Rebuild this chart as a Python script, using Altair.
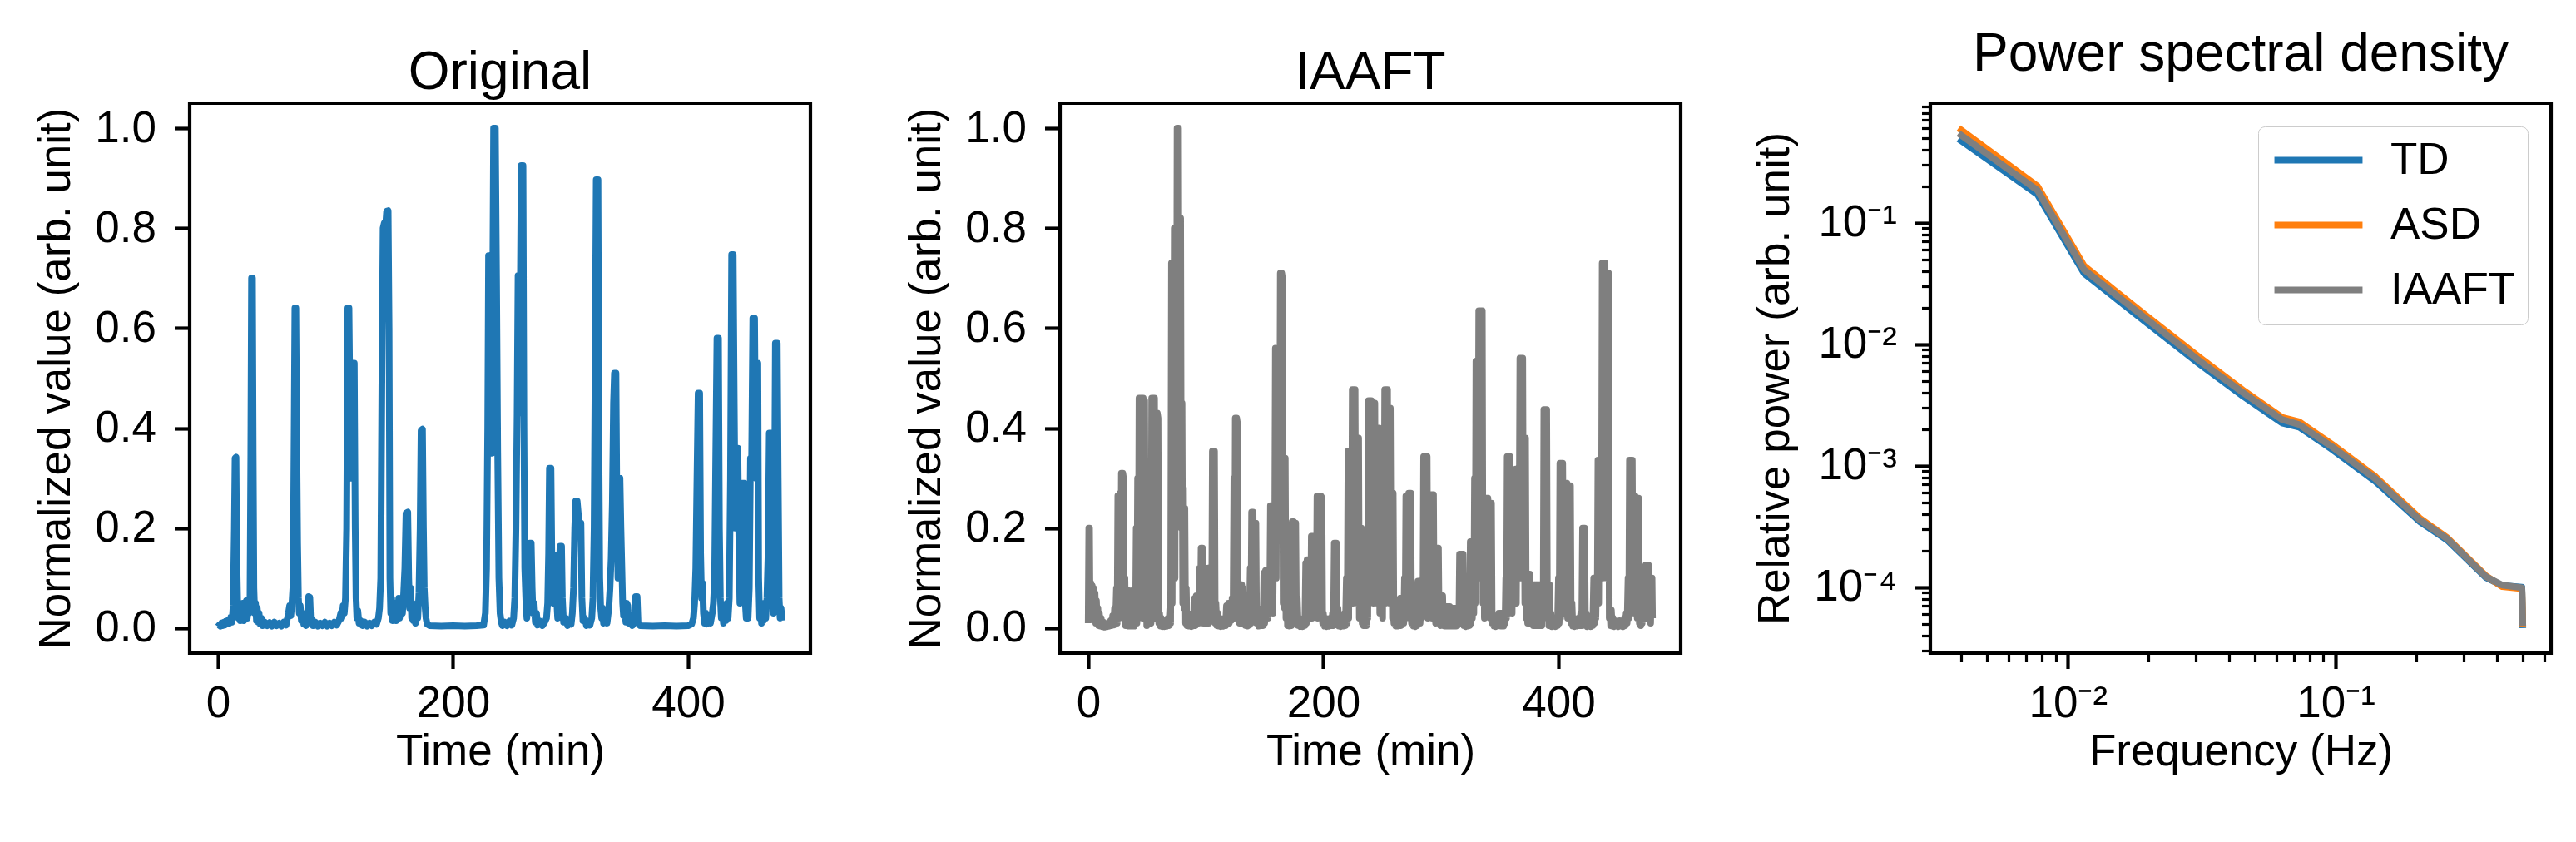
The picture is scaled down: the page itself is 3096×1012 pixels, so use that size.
import math
import altair as alt
import pandas as pd

FONT = "Liberation Sans"

# ---------------- data ----------------
# Original time series (time in min, normalized value)
orig_pts = [
    (0, 0.003), (1, 0.006), (2, 0.004), (3, 0.010), (4, 0.005), (5, 0.012), (6, 0.006), (7, 0.014),
    (8, 0.008), (9, 0.016), (10, 0.010), (11, 0.022), (12, 0.012), (13, 0.045), (14, 0.20), (14.6, 0.34),
    (15.4, 0.342), (16, 0.15), (16.8, 0.05), (17.5, 0.02), (18.2, 0.045), (19, 0.015), (19.8, 0.04),
    (20.5, 0.02), (21.2, 0.05), (22, 0.015), (22.8, 0.04), (23.5, 0.02), (24.2, 0.055), (25, 0.02),
    (25.8, 0.045), (26.5, 0.03), (27.3, 0.06), (28, 0.35), (28.6, 0.70), (29.4, 0.70), (30, 0.35),
    (30.6, 0.08), (31.3, 0.03), (32, 0.05), (32.8, 0.015), (33.5, 0.04), (34.3, 0.012), (35, 0.03),
    (36, 0.008), (37, 0.02), (38, 0.005), (40, 0.012), (42, 0.005), (44, 0.011), (46, 0.004), (48, 0.012),
    (50, 0.005), (52, 0.010), (54, 0.004), (56, 0.012), (58, 0.006), (59, 0.018), (60, 0.03), (61, 0.045),
    (62, 0.025), (63, 0.05), (64, 0.09), (65, 0.45), (65.5, 0.64), (66.3, 0.64), (67, 0.40), (67.8, 0.17),
    (68.5, 0.06), (69.2, 0.03), (70, 0.045), (71, 0.015), (72, 0.03), (73, 0.008), (74, 0.015), (75, 0.005),
    (76.5, 0.02), (77.2, 0.063), (78.2, 0.062), (79, 0.012), (80, 0.018), (81, 0.005), (83, 0.012),
    (85, 0.004), (87, 0.010), (89, 0.005), (91, 0.012), (93, 0.004), (95, 0.010), (97, 0.005), (99, 0.012),
    (101, 0.006), (103, 0.015), (104.5, 0.03), (105.5, 0.02), (106.5, 0.045), (107.5, 0.03), (108.5, 0.06),
    (109.5, 0.20), (110.5, 0.64), (111.5, 0.64), (112.3, 0.45), (113, 0.30), (114, 0.50), (115, 0.53),
    (116, 0.53), (116.8, 0.20), (117.5, 0.06), (118.2, 0.02), (119, 0.035), (120, 0.010), (121.5, 0.015),
    (123, 0.005), (125, 0.012), (127, 0.004), (129, 0.010), (131, 0.005), (133, 0.012), (135, 0.008),
    (136.5, 0.02), (137.5, 0.04), (138.5, 0.10), (139.5, 0.50), (140.5, 0.80), (141.5, 0.81), (142.5, 0.80),
    (143.5, 0.834), (144.8, 0.835), (145.6, 0.60), (146.3, 0.10), (147, 0.03), (147.8, 0.06), (148.5, 0.015),
    (149.3, 0.04), (150, 0.02), (150.8, 0.05), (151.5, 0.015), (152.3, 0.045), (153, 0.02), (153.8, 0.06),
    (154.5, 0.02), (155.3, 0.04), (156, 0.06), (157, 0.03), (158, 0.07), (159, 0.12), (160, 0.23),
    (161.5, 0.232), (162.3, 0.10), (163, 0.04), (164, 0.08), (164.8, 0.02), (165.5, 0.05), (166.3, 0.015),
    (167, 0.04), (168, 0.010), (169, 0.03), (170, 0.02), (171, 0.07), (172, 0.20), (172.8, 0.395),
    (174, 0.398), (174.8, 0.20), (175.5, 0.08), (176.3, 0.04), (177, 0.02), (178, 0.008), (180, 0.005),
    (190, 0.004), (200, 0.005), (210, 0.004), (220, 0.005), (226, 0.006), (227.5, 0.03), (228.5, 0.12),
    (229.5, 0.40), (230.2, 0.745), (231, 0.745), (232, 0.50), (233, 0.35), (233.8, 0.70), (234.5, 1.0),
    (236, 1.0), (237, 0.70), (238, 0.35), (239, 0.10), (240, 0.03), (241, 0.012), (242, 0.005), (244, 0.012),
    (246, 0.005), (248, 0.014), (250, 0.006), (251.5, 0.02), (252.5, 0.06), (253.5, 0.20), (254.5, 0.43),
    (255.3, 0.705), (256, 0.43), (257, 0.60), (258, 0.925), (259.5, 0.925), (260.3, 0.40), (261, 0.12),
    (262, 0.05), (262.8, 0.02), (263.6, 0.06), (264.5, 0.10), (265.3, 0.17), (266.5, 0.17), (267.3, 0.08),
    (268, 0.03), (269, 0.05), (270, 0.012), (271, 0.03), (272, 0.006), (274, 0.014), (276, 0.005),
    (278, 0.012), (279.5, 0.02), (280.5, 0.05), (281.3, 0.15), (282, 0.32), (283.3, 0.32), (284.2, 0.10),
    (285, 0.05), (285.8, 0.13), (286.6, 0.146), (287.6, 0.146), (288.3, 0.05), (289, 0.02), (290, 0.09),
    (291, 0.164), (292.3, 0.164), (293, 0.06), (294, 0.012), (296, 0.02), (297.5, 0.005), (299, 0.012),
    (300.5, 0.008), (301.5, 0.03), (302.5, 0.08), (303.5, 0.20), (304.3, 0.254), (305.6, 0.254),
    (306.5, 0.23), (307.3, 0.21), (308.8, 0.21), (309.6, 0.06), (310.5, 0.015), (312, 0.02), (313.5, 0.005),
    (315, 0.012), (316.5, 0.006), (318, 0.02), (319, 0.06), (320, 0.20), (320.8, 0.50), (321.8, 0.897),
    (323.3, 0.897), (324, 0.40), (324.8, 0.10), (325.6, 0.04), (326.4, 0.02), (327.2, 0.04), (328, 0.010),
    (329.5, 0.025), (331, 0.010), (332.5, 0.04), (333.5, 0.08), (334.5, 0.14), (335.5, 0.25), (336.5, 0.45),
    (337.3, 0.51), (338.6, 0.51), (339.5, 0.20), (340.3, 0.10), (341, 0.30), (342, 0.30), (342.8, 0.20),
    (343.5, 0.13), (344.3, 0.05), (345, 0.025), (346, 0.05), (347, 0.012), (347.8, 0.05), (348.6, 0.045),
    (349.4, 0.010), (351, 0.02), (352.5, 0.005), (354, 0.012), (355.3, 0.063), (356.6, 0.063),
    (357.4, 0.010), (359, 0.005), (370, 0.004), (380, 0.005), (390, 0.004), (400, 0.005), (403, 0.008),
    (404.5, 0.02), (405.5, 0.05), (406.5, 0.12), (407.5, 0.30), (408.5, 0.47), (409.8, 0.47), (410.6, 0.15),
    (411.4, 0.06), (412.2, 0.09), (413, 0.03), (414, 0.010), (415, 0.03), (416, 0.008), (417.5, 0.02),
    (419, 0.010), (420.5, 0.03), (421.5, 0.05), (422.5, 0.10), (423.5, 0.35), (424.5, 0.58), (425.8, 0.58),
    (426.6, 0.20), (427.4, 0.06), (428.2, 0.02), (429, 0.045), (430, 0.010), (431, 0.04), (432, 0.015),
    (433, 0.05), (434, 0.02), (435, 0.06), (436, 0.30), (437, 0.747), (438.3, 0.747), (439.2, 0.45),
    (440, 0.20), (441, 0.36), (442.3, 0.36), (443, 0.20), (444, 0.05), (445, 0.15), (446, 0.29),
    (447.8, 0.29), (448.6, 0.05), (449.4, 0.02), (450.2, 0.05), (451, 0.02), (452, 0.08), (453, 0.34),
    (454, 0.34), (455, 0.62), (456.5, 0.62), (457.5, 0.30), (458.5, 0.53), (459.3, 0.53), (460, 0.10),
    (460.8, 0.02), (461.6, 0.05), (462.4, 0.010), (463.2, 0.04), (464, 0.015), (465, 0.05), (466, 0.02),
    (467, 0.06), (468, 0.15), (469, 0.39), (471, 0.39), (471.8, 0.10), (472.6, 0.03), (473.4, 0.20),
    (474.2, 0.57), (475.8, 0.57), (476.6, 0.30), (477.4, 0.06), (478.2, 0.02), (479, 0.04), (480, 0.015),
]

# IAAFT surrogate time series (time in min, normalized value)
iaaft_pts = [
    (0, 0.01), (0.5, 0.2), (1.1, 0.2), (1.6, 0.02), (2.2, 0.09), (2.8, 0.02), (3.4, 0.085), (4, 0.02),
    (4.6, 0.08), (5.2, 0.02), (5.8, 0.07), (6.4, 0.01), (7, 0.055), (7.6, 0.01), (8.2, 0.04), (8.8, 0.005),
    (9.5, 0.03), (10.2, 0.004), (11, 0.02), (12, 0.003), (13, 0.012), (14, 0.002), (15, 0.008), (16, 0.003),
    (17, 0.01), (18, 0.004), (19, 0.015), (20, 0.005), (20.8, 0.025), (21.6, 0.006), (22.4, 0.04),
    (23.2, 0.01), (24, 0.08), (24.6, 0.01), (25.2, 0.265), (25.8, 0.265), (26.4, 0.02), (27, 0.27),
    (27.6, 0.05), (28.2, 0.31), (28.8, 0.03), (29.4, 0.31), (30, 0.3), (30.6, 0.02), (31.2, 0.1),
    (31.8, 0.005), (32.4, 0.075), (33, 0.005), (33.6, 0.072), (34.2, 0.004), (34.8, 0.075), (35.4, 0.006),
    (36, 0.07), (36.6, 0.004), (37.2, 0.075), (37.8, 0.006), (38.4, 0.072), (39, 0.004), (39.6, 0.075),
    (40.2, 0.01), (40.8, 0.2), (41.4, 0.01), (42, 0.3), (42.6, 0.02), (43.2, 0.46), (43.8, 0.03),
    (44.4, 0.46), (45, 0.05), (45.6, 0.46), (46.2, 0.02), (46.8, 0.46), (47.4, 0.1), (48, 0.455),
    (48.6, 0.02), (49.2, 0.14), (49.8, 0.005), (50.4, 0.14), (51, 0.01), (51.6, 0.14), (52.2, 0.01),
    (52.8, 0.28), (53.4, 0.01), (54, 0.46), (54.6, 0.03), (55.2, 0.46), (55.8, 0.02), (56.4, 0.46),
    (57, 0.06), (57.6, 0.43), (58.2, 0.02), (58.8, 0.43), (59.4, 0.42), (60, 0.01), (60.7, 0.03),
    (61.4, 0.004), (62.2, 0.02), (63, 0.003), (64, 0.015), (65, 0.003), (66, 0.012), (67, 0.004),
    (67.8, 0.02), (68.6, 0.005), (69.4, 0.04), (70.1, 0.01), (70.8, 0.73), (71.4, 0.05), (72, 0.73),
    (72.6, 0.2), (73.2, 0.8), (73.8, 0.1), (74.4, 0.8), (75, 0.3), (75.6, 1.0), (76.2, 0.5), (76.8, 1.0),
    (77.4, 0.4), (78, 0.82), (78.6, 0.82), (79.2, 0.2), (79.8, 0.45), (80.4, 0.05), (81, 0.28),
    (81.6, 0.04), (82.2, 0.24), (82.8, 0.01), (83.4, 0.08), (84, 0.005), (85, 0.03), (86, 0.004),
    (87, 0.02), (88, 0.003), (89, 0.015), (89.8, 0.005), (90.5, 0.06), (91.2, 0.005), (91.9, 0.065),
    (92.6, 0.01), (93.3, 0.065), (94, 0.01), (94.7, 0.12), (95.4, 0.02), (96, 0.16), (96.6, 0.02),
    (97.2, 0.16), (97.8, 0.01), (98.4, 0.1), (99, 0.02), (99.6, 0.12), (100.2, 0.01), (100.8, 0.1),
    (101.4, 0.02), (102, 0.12), (102.6, 0.01), (103.2, 0.08), (103.8, 0.02), (104.4, 0.12), (105, 0.02),
    (105.6, 0.354), (106.2, 0.02), (106.8, 0.354), (107.4, 0.354), (108, 0.01), (108.6, 0.05),
    (109.4, 0.005), (110.2, 0.03), (111, 0.004), (112, 0.02), (113, 0.003), (114, 0.012), (115, 0.004),
    (116, 0.02), (116.8, 0.005), (117.6, 0.045), (118.4, 0.008), (119.2, 0.05), (120, 0.01), (120.8, 0.05),
    (121.6, 0.015), (122.4, 0.06), (123.2, 0.02), (123.9, 0.3), (124.5, 0.02), (125.1, 0.42), (125.7, 0.05),
    (126.3, 0.42), (126.9, 0.41), (127.5, 0.05), (128.1, 0.09), (128.7, 0.01), (129.3, 0.087), (129.9, 0.01),
    (130.5, 0.087), (131.1, 0.01), (131.7, 0.08), (132.3, 0.01), (133, 0.06), (133.8, 0.005), (134.6, 0.03),
    (135.4, 0.004), (136.2, 0.02), (137, 0.006), (137.8, 0.12), (138.4, 0.01), (139, 0.232), (139.6, 0.03),
    (140.2, 0.232), (140.8, 0.02), (141.4, 0.21), (142, 0.03), (142.6, 0.21), (143.2, 0.01), (144, 0.03),
    (145, 0.004), (146, 0.02), (147, 0.005), (148, 0.04), (148.7, 0.005), (149.4, 0.11), (150.1, 0.01),
    (150.8, 0.115), (151.5, 0.02), (152.2, 0.115), (152.9, 0.02), (153.6, 0.115), (154.3, 0.03),
    (155, 0.245), (155.7, 0.04), (156.4, 0.245), (157.1, 0.03), (157.8, 0.245), (158.5, 0.1), (159.2, 0.56),
    (159.9, 0.1), (160.6, 0.56), (161.3, 0.2), (162, 0.56), (162.7, 0.2), (163.4, 0.71), (164, 0.3),
    (164.6, 0.71), (165.2, 0.7), (165.8, 0.05), (166.4, 0.34), (167, 0.04), (167.6, 0.34), (168.2, 0.02),
    (168.8, 0.1), (169.5, 0.005), (170.3, 0.03), (171.1, 0.004), (172, 0.02), (172.8, 0.005), (173.5, 0.213),
    (174.1, 0.02), (174.7, 0.213), (175.3, 0.02), (175.9, 0.21), (176.5, 0.21), (177.1, 0.02), (177.8, 0.06),
    (178.6, 0.005), (179.5, 0.02), (180.5, 0.003), (181.5, 0.015), (182.5, 0.003), (183.5, 0.012),
    (184.3, 0.005), (185, 0.13), (185.6, 0.01), (186.2, 0.137), (186.8, 0.02), (187.4, 0.137), (188, 0.05),
    (188.6, 0.137), (189.2, 0.02), (189.8, 0.184), (190.4, 0.02), (191, 0.184), (191.6, 0.05), (192.2, 0.184),
    (192.8, 0.1), (193.4, 0.184), (194, 0.03), (194.6, 0.264), (195.2, 0.02), (195.8, 0.264), (196.4, 0.05),
    (197, 0.264), (197.6, 0.03), (198.2, 0.264), (198.8, 0.26), (199.4, 0.01), (200, 0.03), (201, 0.004),
    (202, 0.02), (203, 0.003), (204, 0.012), (205, 0.004), (206, 0.02), (207, 0.005), (207.8, 0.03),
    (208.6, 0.005), (209.3, 0.17), (209.9, 0.01), (210.5, 0.17), (211.1, 0.17), (211.7, 0.01), (212.4, 0.04),
    (213.2, 0.004), (214, 0.02), (215, 0.003), (216, 0.015), (217, 0.004), (218, 0.03), (218.8, 0.005),
    (219.6, 0.1), (220.3, 0.01), (221, 0.354), (221.6, 0.02), (222.2, 0.354), (222.8, 0.05), (223.4, 0.354),
    (224, 0.1), (224.6, 0.477), (225.2, 0.05), (225.8, 0.477), (226.4, 0.2), (227, 0.477), (227.6, 0.1),
    (228.2, 0.38), (228.8, 0.05), (229.4, 0.38), (230, 0.38), (230.6, 0.02), (231.2, 0.2), (231.8, 0.03),
    (232.4, 0.2), (233, 0.01), (233.6, 0.07), (234.2, 0.005), (234.8, 0.07), (235.4, 0.01), (236, 0.07),
    (236.6, 0.005), (237.2, 0.1), (237.8, 0.02), (238.4, 0.455), (239, 0.05), (239.6, 0.455), (240.2, 0.1),
    (240.8, 0.455), (241.4, 0.2), (242, 0.45), (242.6, 0.05), (243.2, 0.45), (243.8, 0.45), (244.4, 0.1),
    (245, 0.4), (245.6, 0.05), (246.2, 0.4), (246.8, 0.1), (247.4, 0.4), (248, 0.03), (248.6, 0.3),
    (249.2, 0.05), (249.8, 0.3), (250.4, 0.02), (251, 0.3), (251.6, 0.1), (252.2, 0.477), (252.8, 0.05),
    (253.4, 0.477), (254, 0.2), (254.6, 0.477), (255.2, 0.1), (255.8, 0.44), (256.4, 0.05), (257, 0.44),
    (257.6, 0.1), (258.2, 0.27), (258.8, 0.02), (259.4, 0.27), (260, 0.01), (260.8, 0.03), (261.6, 0.004),
    (262.4, 0.02), (263.2, 0.004), (264, 0.015), (264.7, 0.005), (265.4, 0.06), (266, 0.005), (266.6, 0.06),
    (267.2, 0.01), (267.8, 0.06), (268.4, 0.01), (269, 0.1), (269.6, 0.02), (270.2, 0.264), (270.8, 0.03),
    (271.4, 0.264), (272, 0.05), (272.6, 0.27), (273.2, 0.02), (273.8, 0.27), (274.4, 0.27), (275, 0.01),
    (275.8, 0.03), (276.6, 0.004), (277.4, 0.02), (278.2, 0.003), (279, 0.015), (279.8, 0.005),
    (280.5, 0.094), (281.1, 0.01), (281.7, 0.094), (282.3, 0.01), (282.9, 0.094), (283.5, 0.02),
    (284.1, 0.094), (284.7, 0.03), (285.3, 0.343), (285.9, 0.03), (286.5, 0.343), (287.1, 0.05),
    (287.7, 0.343), (288.3, 0.343), (288.9, 0.02), (289.5, 0.267), (290.1, 0.03), (290.7, 0.267),
    (291.3, 0.05), (291.9, 0.267), (292.5, 0.02), (293.1, 0.267), (293.7, 0.267), (294.3, 0.02),
    (294.9, 0.16), (295.5, 0.01), (296.1, 0.16), (296.7, 0.02), (297.3, 0.16), (297.9, 0.16), (298.5, 0.01),
    (299.1, 0.065), (299.7, 0.005), (300.3, 0.065), (300.9, 0.01), (301.5, 0.065), (302.1, 0.005),
    (302.7, 0.043), (303.3, 0.004), (303.9, 0.043), (304.5, 0.005), (305.1, 0.043), (305.7, 0.004),
    (306.3, 0.043), (306.9, 0.005), (307.5, 0.043), (308.1, 0.004), (308.7, 0.04), (309.3, 0.005),
    (309.9, 0.04), (310.5, 0.004), (311.1, 0.04), (311.7, 0.005), (312.3, 0.04), (312.9, 0.004),
    (313.5, 0.04), (314.1, 0.005), (314.7, 0.04), (315.3, 0.01), (315.9, 0.148), (316.5, 0.01),
    (317.1, 0.148), (317.7, 0.02), (318.3, 0.148), (318.9, 0.148), (319.5, 0.005), (320.3, 0.02),
    (321.1, 0.003), (322, 0.015), (322.8, 0.004), (323.6, 0.03), (324.3, 0.005), (325, 0.173), (325.6, 0.01),
    (326.2, 0.173), (326.8, 0.02), (327.4, 0.173), (328, 0.03), (328.6, 0.3), (329.2, 0.05), (329.8, 0.534),
    (330.4, 0.1), (331, 0.534), (331.6, 0.2), (332.2, 0.635), (332.8, 0.1), (333.4, 0.635), (334, 0.3),
    (334.6, 0.635), (335.2, 0.635), (335.8, 0.05), (336.4, 0.26), (337, 0.02), (337.6, 0.26), (338.2, 0.05),
    (338.8, 0.26), (339.4, 0.03), (340, 0.26), (340.6, 0.06), (341.2, 0.25), (341.8, 0.02), (342.4, 0.25),
    (343, 0.25), (343.6, 0.01), (344.4, 0.02), (345.2, 0.004), (346, 0.012), (346.8, 0.003), (347.6, 0.02),
    (348.4, 0.005), (349.2, 0.03), (349.8, 0.005), (350.4, 0.03), (351, 0.004), (351.6, 0.03), (352.2, 0.005),
    (352.8, 0.03), (353.4, 0.004), (354, 0.03), (354.6, 0.01), (355.2, 0.1), (355.8, 0.02), (356.4, 0.343),
    (357, 0.03), (357.6, 0.343), (358.2, 0.05), (358.8, 0.343), (359.4, 0.1), (360, 0.264), (360.6, 0.03),
    (361.2, 0.264), (361.8, 0.05), (362.4, 0.264), (363, 0.1), (363.6, 0.318), (364.2, 0.05), (364.8, 0.318),
    (365.4, 0.1), (366, 0.318), (366.6, 0.2), (367.2, 0.54), (367.8, 0.1), (368.4, 0.54), (369, 0.3),
    (369.6, 0.54), (370.2, 0.1), (370.8, 0.38), (371.4, 0.05), (372, 0.38), (372.6, 0.02), (373.2, 0.108),
    (373.8, 0.01), (374.4, 0.108), (375, 0.02), (375.6, 0.108), (376.2, 0.01), (376.8, 0.087), (377.4, 0.01),
    (378, 0.087), (378.6, 0.005), (379.2, 0.087), (379.8, 0.01), (380.4, 0.087), (381, 0.005), (381.6, 0.087),
    (382.2, 0.01), (382.8, 0.087), (383.4, 0.005), (384, 0.087), (384.6, 0.01), (385.2, 0.087),
    (385.8, 0.005), (386.4, 0.087), (387, 0.02), (387.6, 0.437), (388.2, 0.03), (388.8, 0.437),
    (389.4, 0.05), (390, 0.437), (390.6, 0.02), (391.2, 0.087), (391.8, 0.005), (392.4, 0.087),
    (393, 0.005), (393.6, 0.03), (394.4, 0.003), (395.2, 0.02), (396, 0.004), (396.8, 0.012),
    (397.6, 0.003), (398.4, 0.02), (399.2, 0.005), (400, 0.1), (400.6, 0.01), (401.2, 0.33), (401.8, 0.02),
    (402.4, 0.33), (403, 0.05), (403.6, 0.33), (404.2, 0.1), (404.8, 0.29), (405.4, 0.03), (406, 0.29),
    (406.6, 0.06), (407.2, 0.29), (407.8, 0.02), (408.4, 0.285), (409, 0.05), (409.6, 0.285), (410.2, 0.285),
    (410.8, 0.01), (411.5, 0.05), (412.2, 0.004), (413, 0.02), (414, 0.003), (415, 0.015), (416, 0.004),
    (417, 0.02), (418, 0.005), (419, 0.03), (419.8, 0.005), (420.5, 0.2), (421.1, 0.01), (421.7, 0.2),
    (422.3, 0.2), (422.9, 0.005), (423.6, 0.03), (424.4, 0.003), (425.2, 0.02), (426, 0.004), (426.8, 0.015),
    (427.6, 0.003), (428.4, 0.025), (429.2, 0.005), (430, 0.1), (430.6, 0.01), (431.2, 0.1), (431.8, 0.02),
    (432.4, 0.1), (433, 0.05), (433.6, 0.336), (434.2, 0.05), (434.8, 0.336), (435.4, 0.1), (436, 0.336),
    (436.6, 0.2), (437.2, 0.73), (437.8, 0.1), (438.4, 0.73), (439, 0.3), (439.6, 0.73), (440.2, 0.2),
    (440.8, 0.71), (441.4, 0.1), (442, 0.71), (442.6, 0.71), (443.2, 0.02), (443.8, 0.036), (444.4, 0.005),
    (445, 0.036), (445.7, 0.004), (446.5, 0.02), (447.3, 0.003), (448.2, 0.015), (449, 0.004), (450, 0.012),
    (451, 0.003), (452, 0.015), (453, 0.004), (454, 0.01), (455, 0.003), (456, 0.02), (456.8, 0.005),
    (457.6, 0.03), (458.4, 0.01), (459.2, 0.1), (459.8, 0.02), (460.4, 0.336), (461, 0.03), (461.6, 0.336),
    (462.2, 0.1), (462.8, 0.336), (463.4, 0.05), (464, 0.264), (464.6, 0.03), (465.2, 0.264), (465.8, 0.05),
    (466.4, 0.26), (467, 0.02), (467.6, 0.26), (468.2, 0.26), (468.8, 0.01), (469.4, 0.09), (470, 0.005),
    (470.6, 0.09), (471.2, 0.01), (471.8, 0.09), (472.4, 0.02), (473, 0.09), (473.6, 0.03), (474.2, 0.126),
    (474.8, 0.02), (475.4, 0.126), (476, 0.04), (476.6, 0.126), (477.2, 0.02), (477.8, 0.1), (478.4, 0.01),
    (479, 0.1), (479.6, 0.1), (480, 0.02),
]

# Power spectral density (frequency in Hz, relative power)
psd_freq = [0.00390625, 0.0077, 0.0115, 0.0194, 0.031, 0.045, 0.063, 0.073, 0.097, 0.141,
            0.206, 0.261, 0.364, 0.419, 0.496, 0.5]
psd_td = [0.49, 0.171, 0.0383, 0.0154, 0.00686, 0.00374, 0.00225, 0.00208, 0.00136, 0.000741,
          0.000347, 0.000244, 0.000120, 0.000103, 0.000100, 0.000046]
psd_asd = [0.60, 0.200, 0.0440, 0.0175, 0.00780, 0.00420, 0.00250, 0.00230, 0.00150, 0.000810,
           0.000370, 0.000255, 0.000124, 0.000101, 0.000097, 0.000047]
psd_iaaft = [0.545, 0.185, 0.0410, 0.0165, 0.00730, 0.00400, 0.00240, 0.00218, 0.00143, 0.000780,
             0.000358, 0.000250, 0.000122, 0.000104, 0.000099, 0.000048]

series_names = ["TD", "ASD", "IAAFT"]
series_colors = ["#1f77b4", "#ff7f0e", "#7f7f7f"]

ts_xticks = [0, 200, 400]
ts_yticks = [0.0, 0.2, 0.4, 0.6, 0.8, 1.0]
psd_xticks = [0.004, 0.005, 0.006, 0.007, 0.008, 0.009, 0.01,
              0.02, 0.03, 0.04, 0.05, 0.06, 0.07, 0.08, 0.09, 0.1,
              0.2, 0.3, 0.4, 0.5, 0.6]
psd_yticks = [3e-5, 4e-5, 5e-5, 6e-5, 7e-5, 8e-5, 9e-5, 1e-4,
              2e-4, 3e-4, 4e-4, 5e-4, 6e-4, 7e-4, 8e-4, 9e-4, 1e-3,
              2e-3, 3e-3, 4e-3, 5e-3, 6e-3, 7e-3, 8e-3, 9e-3, 1e-2,
              0.02, 0.03, 0.04, 0.05, 0.06, 0.07, 0.08, 0.09, 0.1,
              0.2, 0.3, 0.4, 0.5, 0.6, 0.7, 0.8, 0.9]

# ---------------- tables ----------------
df_orig = pd.DataFrame(orig_pts, columns=["t", "v"])
df_iaaft = pd.DataFrame(iaaft_pts, columns=["t", "v"])
rows = []
for name, vals in zip(series_names, [psd_td, psd_asd, psd_iaaft]):
    for f, p in zip(psd_freq, vals):
        rows.append({"f": f, "p": p, "series": name})
df_psd = pd.DataFrame(rows)

# matplotlib-like 5% margins
t_min, t_max = 0, 480
t_dom = [t_min - 0.05 * (t_max - t_min), t_max + 0.05 * (t_max - t_min)]
lf0, lf1 = math.log10(min(psd_freq)), math.log10(max(psd_freq))
f_dom = [10 ** (lf0 - 0.05 * (lf1 - lf0)), 10 ** (lf1 + 0.05 * (lf1 - lf0))]
allp = psd_td + psd_asd + psd_iaaft
lp0, lp1 = math.log10(min(allp)), math.log10(max(allp))
p_dom = [10 ** (lp0 - 0.05 * (lp1 - lp0)), 10 ** (lp1 + 0.05 * (lp1 - lp0))]

W, H = 746, 661
LW = 8
TICK_MAJ, TICK_MIN = 18.5, 10.5
TW_MAJ, TW_MIN = 4.2, 3.2

MAJ = "abs(log(datum.value)/LN10 - round(log(datum.value)/LN10)) < 0.001"
SUP = "['\u2070','\u00b9','\u00b2','\u00b3','\u2074','\u2075','\u2076']"
LOG_LABEL = MAJ + " ? ('10\u207b' + " + SUP + "[-round(log(datum.value)/LN10)]) : ''"


def ts_panel(df, color, title):
    return alt.Chart(df).mark_line(
        color=color, strokeWidth=LW, strokeJoin="round", strokeCap="butt", clip=True
    ).encode(
        x=alt.X("t:Q", scale=alt.Scale(domain=t_dom, nice=False, zero=False),
                axis=alt.Axis(title="Time (min)", values=ts_xticks, format="d")),
        y=alt.Y("v:Q", scale=alt.Scale(domain=[-0.05, 1.05], nice=False, zero=False),
                axis=alt.Axis(title="Normalized value (arb. unit)", values=ts_yticks, format=".1f")),
    ).properties(width=W, height=H, title=title)


p1 = ts_panel(df_orig, "#1f77b4", "Original")
p2 = ts_panel(df_iaaft, "#7f7f7f", "IAAFT")

# legend handle: a wide horizontal stroke (path spans 3x the nominal symbol size)
SYM_Q = 35.3
color_enc = alt.Color(
    "series:N",
    scale=alt.Scale(domain=series_names, range=series_colors),
    legend=alt.Legend(
        title=None, orient="top-right", offset=28, symbolType="M-3,0H3",
        symbolSize=SYM_Q * SYM_Q, symbolStrokeWidth=LW, symbolOffset=32,
        labelFont=FONT, labelFontSize=53, labelColor="black", labelOffset=60,
        padding=14, rowPadding=24,
        strokeColor="#cccccc", fillColor="white", cornerRadius=8,
    ),
)

psd_base = alt.Chart(df_psd).encode(
    x=alt.X("f:Q", scale=alt.Scale(type="log", domain=f_dom, nice=False),
            axis=alt.Axis(title="Frequency (Hz)", values=psd_xticks, labelExpr=LOG_LABEL,
                          tickSize={"condition": {"test": MAJ, "value": TICK_MAJ}, "value": TICK_MIN},
                          tickWidth={"condition": {"test": MAJ, "value": TW_MAJ}, "value": TW_MIN})),
    y=alt.Y("p:Q", scale=alt.Scale(type="log", domain=p_dom, nice=False),
            axis=alt.Axis(title="Relative power (arb. unit)", values=psd_yticks, labelExpr=LOG_LABEL,
                          tickSize={"condition": {"test": MAJ, "value": TICK_MAJ}, "value": TICK_MIN},
                          tickWidth={"condition": {"test": MAJ, "value": TW_MAJ}, "value": TW_MIN})),
    color=color_enc,
)

psd_layers = [
    psd_base.transform_filter(alt.datum.series == s).mark_line(
        strokeWidth=LW, strokeJoin="round", clip=True)
    for s in series_names
]
p3 = alt.layer(*psd_layers).properties(width=W, height=H, title="Power spectral density")

chart = alt.hconcat(p1, p2, p3, spacing=300, bounds="flush").resolve_legend(
    color="independent"
).properties(
    padding={"left": 31, "top": 24, "right": 5, "bottom": 5}
).configure_view(
    stroke="black", strokeWidth=TW_MAJ
).configure_axis(
    domain=False, grid=False, ticks=True, tickColor="black", tickSize=TICK_MAJ, tickWidth=TW_MAJ,
    labelFont=FONT, labelFontSize=53, labelColor="black",
    titleFont=FONT, titleFontSize=53, titleFontWeight="normal", titleColor="black",
    labelFlush=False, labelOverlap=False,
).configure_axisX(
    labelPadding=16, titlePadding=5,
).configure_axisY(
    labelPadding=22, titlePadding=19,
).configure_title(
    font=FONT, fontSize=64, fontWeight="normal", color="black", anchor="middle",
    offset=0, baseline="alphabetic",
)

chart.save("out.html", embed_options={"renderer": "svg", "actions": False})
